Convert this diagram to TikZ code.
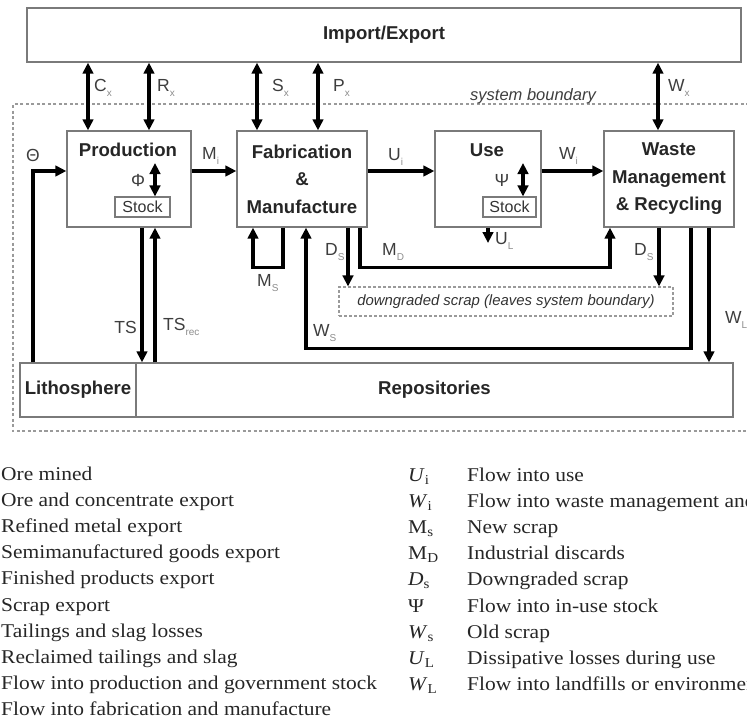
\documentclass[tikz,border=0pt]{standalone}
\usepackage{fontspec}
\setmainfont{Liberation Serif}
\setsansfont{Liberation Sans}
\newfontfamily\legfont{Liberation Serif}[FakeStretch=1.1]
\usetikzlibrary{arrows.meta}
\definecolor{boxgray}{HTML}{7A7A7A}
\definecolor{labgray}{HTML}{3E3E3E}
\definecolor{subgray}{HTML}{8C8C8C}
\definecolor{leggray}{HTML}{262626}
\definecolor{bndgray}{HTML}{9A9A9A}
\newcommand\lsb[1]{\raisebox{-0.3em}{\fontsize{10}{10}\selectfont\color{subgray}#1}}
\begin{document}
\begin{tikzpicture}[x=1pt,y=-1pt,
  box/.style={draw=boxgray, line width=1.3pt, inner sep=0pt, align=center,
    font=\sffamily\bfseries\fontsize{18.6}{27.5}\selectfont, text=black!85},
  title/.style={inner sep=0pt, font=\sffamily\bfseries\fontsize{18.6}{22}\selectfont, text=black!85},
  stockbox/.style={draw=boxgray, line width=1.1pt, inner sep=0pt,
    font=\sffamily\fontsize{16}{16}\selectfont, text=black!80},
  dashbox/.style={draw=bndgray, line width=1.1pt, dash pattern=on 3pt off 2pt, inner sep=0pt,
    font=\sffamily\itshape\fontsize{14.9}{16}\selectfont, text=black!80},
  lab/.style={inner sep=0pt, font=\sffamily\fontsize{17.5}{17.5}\selectfont, text=labgray},
  flow/.style={line width=3.1pt, draw=black, -{Triangle[length=11pt,width=10.5pt]}},
  dbl/.style={line width=3.1pt, draw=black, {Triangle[length=11pt,width=10.5pt]}-{Triangle[length=11pt,width=10.5pt]}},
  bnd/.style={draw=bndgray, line width=1.2pt, dash pattern=on 3pt off 2.5pt},
  leg/.style={inner sep=0pt, anchor=base west, font=\legfont\fontsize{19.5}{20}\selectfont, text=leggray}
]
\useasboundingbox (0,0) rectangle (747,721);
\clip (0,0) rectangle (747,721);

% system boundary
\draw[bnd] (760,104) -- (13,104) -- (13,431) -- (760,431);
\node[inner sep=0pt, font=\sffamily\itshape\fontsize{16.5}{17}\selectfont, text=labgray] (sbl) at (533,96) {system boundary};

% boxes
\node[box, minimum width=714pt, minimum height=54pt] (ie) at (384,35) {Import/Export};
\node[box, minimum width=124pt, minimum height=96pt] (prod) at (129,179) {};
\node[title] (prodt) at (128,150) {Production};
\node[box, minimum width=130pt, minimum height=96pt] (fab) at (302,179) {Fabrication\\\&\\Manufacture};
\node[box, minimum width=106pt, minimum height=96pt] (usebox) at (488,179) {};
\node[title] (uset) at (487,150) {Use};
\node[box, minimum width=130pt, minimum height=96pt] (waste) at (669,179) {Waste\\Management\\\& Recycling};
\node[box, minimum width=116pt, minimum height=54pt] (litho) at (78,390) {Lithosphere};
\node[box, minimum width=597pt, minimum height=54pt] (repos) at (434.5,390) {Repositories};
\node[stockbox, minimum width=55pt, minimum height=20pt] (stk1) at (142.5,207) {Stock};
\node[stockbox, minimum width=53pt, minimum height=20pt] (stk2) at (509.5,207) {Stock};
\node[dashbox, minimum width=334pt, minimum height=29pt] (dgs) at (506,301.5) {downgraded scrap (leaves system boundary)};

% stock flows
\node[lab] (phi) at (138,180) {Φ};
\coordinate (phitop) at (155,163);
\draw[dbl] (phitop) -- (stk1.north -| phitop);
\node[lab] (psi) at (502,180) {Ψ};
\coordinate (psitop) at (523,163);
\draw[dbl] (psitop) -- (stk2.north -| psitop);

% horizontal main flows
\coordinate (row) at (0,171);
\draw[flow] (litho.north -| 33,0) |- (prod.west |- row);
\node[lab] (theta) at (33,155) {Θ};
\draw[flow] (prod.east |- row) -- (fab.west |- row);
\node[lab, anchor=west] (mi) at (202,156) {M\lsb{i}};
\draw[flow] (fab.east |- row) -- (usebox.west |- row);
\node[lab, anchor=west] (ui) at (388,157) {U\lsb{i}};
\draw[flow] (usebox.east |- row) -- (waste.west |- row);
\node[lab, anchor=west] (wi) at (559,156) {W\lsb{i}};

% import/export flows
\draw[dbl] (ie.south -| 88,0) -- (prod.north -| 88,0);
\node[lab, anchor=west] (cx) at (94,88) {C\lsb{x}};
\draw[dbl] (ie.south -| 149,0) -- (prod.north -| 149,0);
\node[lab, anchor=west] (rx) at (157,88) {R\lsb{x}};
\draw[dbl] (ie.south -| 257,0) -- (fab.north -| 257,0);
\node[lab, anchor=west] (sx) at (272,88) {S\lsb{x}};
\draw[dbl] (ie.south -| 318,0) -- (fab.north -| 318,0);
\node[lab, anchor=west] (px) at (333,88) {P\lsb{x}};
\draw[dbl] (ie.south -| 658,0) -- (waste.north -| 658,0);
\node[lab, anchor=west] (wx) at (668,88) {W\lsb{x}};

% tailings
\draw[flow] (prod.south -| 142,0) -- (repos.north -| 142,0);
\node[lab, anchor=east] (ts) at (137,327) {TS};
\draw[flow] (repos.north -| 155,0) -- (prod.south -| 155,0);
\node[lab, anchor=west] (tsrec) at (163,327) {TS\lsb{rec}};

% fabrication outflows
\draw[flow] (fab.south -| 283,0) -- ++(0,40) -| (fab.south -| 253,0);
\node[lab, anchor=west] (ms) at (257,283) {M\lsb{S}};
\draw[flow] (fab.south -| 348,0) -- (dgs.north -| 348,0);
\node[lab, anchor=west] (ds1) at (325,252) {D\lsb{S}};
\draw[flow] (fab.south -| 360,0) -- ++(0,40) -| (waste.south -| 610,0);
\node[lab, anchor=west] (md) at (382,252) {M\lsb{D}};

% use outflow
\coordinate (ulend) at (488,243);
\draw[flow] (usebox.south -| ulend) -- (ulend);
\node[lab, anchor=west] (ul) at (495,241) {U\lsb{L}};

% waste outflows
\draw[flow] (waste.south -| 691,0) -- ++(0,121) -| (fab.south -| 306,0);
\node[lab, anchor=west] (ws) at (313,333) {W\lsb{S}};
\draw[flow] (waste.south -| 659,0) -- (dgs.north -| 659,0);
\node[lab, anchor=west] (ds2) at (634,252) {D\lsb{S}};
\draw[flow] (waste.south -| 709,0) -- (repos.north -| 709,0);
\node[lab, anchor=west] (wl) at (725,320) {W\lsb{L}};

% legend, left column
\foreach \t [count=\i from 0] in {Ore mined, Ore and concentrate export, Refined metal export,
  Semimanufactured goods export, Finished products export, Scrap export,
  Tailings and slag losses, Reclaimed tailings and slag,
  Flow into production and government stock, Flow into fabrication and manufacture}
  \node[leg] (la\i) at (1,{480+26.2*\i}) {\t};

% legend, right column
\foreach \s/\t [count=\i from 0] in {
  {\textit{U}\textsubscript{i}}/Flow into use,
  {\textit{W}\textsubscript{i}}/Flow into waste management and,
  {M\textsubscript{s}}/New scrap,
  {M\textsubscript{D}}/Industrial discards,
  {\textit{D}\textsubscript{s}}/Downgraded scrap,
  {Ψ}/Flow into in-use stock,
  {\textit{W}\textsubscript{s}}/Old scrap,
  {\textit{U}\textsubscript{L}}/Dissipative losses during use,
  {\textit{W}\textsubscript{L}}/Flow into landfills or environment}
{
  \node[leg] (ls\i) at (408,{481+26.2*\i}) {\s};
  \node[leg] (lt\i) at (467,{481+26.2*\i}) {\t};
}
\end{tikzpicture}
\end{document}
